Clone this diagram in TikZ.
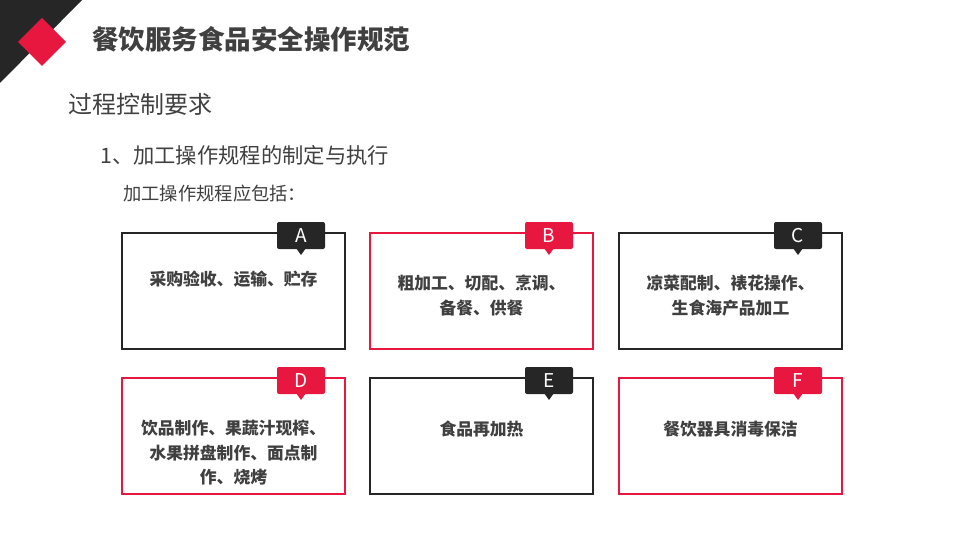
\documentclass[tikz,border=0pt]{standalone}
\usepackage{fontspec}
\setmainfont{Noto Sans CJK SC}
\definecolor{myred}{HTML}{E8173F}
\definecolor{mydark}{HTML}{262626}
\definecolor{mytext}{HTML}{404040}
\begin{document}
\begin{tikzpicture}[x=1pt,y=-1pt,
  card/.style={draw=#1,line width=1.3pt,fill=white},
  tagbox/.style={fill=#1,rounded corners=2pt},
  tagtxt/.style={text=white,font=\fontsize{19}{19}\selectfont},
  cardtxt/.style={text=mytext,font=\fontsize{16.8}{24.5}\selectfont\bfseries,align=center,anchor=north,inner sep=0pt}]
\useasboundingbox (0,0) rectangle (960,540);
\fill[white] (0,0) rectangle (960,540);
% corner
\fill[mydark] (0,0) -- (82,0) -- (0,83) -- cycle;
\fill[myred] (42,18) -- (66,42) -- (42,66) -- (18,42) -- cycle;
\node[anchor=west,text=mytext,font=\fontsize{26.5}{26.5}\selectfont\bfseries,inner sep=0pt] (title) at (92,39) {餐饮服务食品安全操作规范};
\node[anchor=west,text=mytext,font=\fontsize{24}{24}\selectfont,inner sep=0pt] (h1) at (68,104) {过程控制要求};
\node[anchor=west,text=mytext,font=\fontsize{21.3}{21.3}\selectfont,inner sep=0pt] (h2) at (100,155) {1、加工操作规程的制定与执行};
\node[anchor=west,text=mytext,font=\fontsize{18.3}{18.3}\selectfont,inner sep=0pt] (h3) at (123,194) {加工操作规程应包括：};
% cards
\foreach \n/\x/\y/\c in {A/122/233/mydark,B/370/233/myred,C/619/233/mydark,D/122/378/myred,E/370/378/mydark,F/619/378/myred}{
  \draw[card=\c] (\x,\y) rectangle ++(223,116);
  \fill[\c] (\x+174,\y+15) -- (\x+184,\y+15) -- (\x+179,\y+22) -- cycle;
  \fill[tagbox=\c] (\x+155,\y-11) rectangle ++(48,27);
  \node[tagtxt] (tag\n) at (\x+179,\y+3) {\n};
}
\node[cardtxt] (tA) at (233.5,271) {采购验收、运输、贮存};
\node[cardtxt] (tB) at (481.5,275) {粗加工、切配、烹调、\\备餐、供餐};
\node[cardtxt] (tC) at (730.5,275) {凉菜配制、裱花操作、\\生食海产品加工};
\node[cardtxt] (tD) at (233.5,420) {饮品制作、果蔬汁现榨、\\水果拼盘制作、面点制\\作、烧烤};
\node[cardtxt] (tE) at (481.5,421) {食品再加热};
\node[cardtxt] (tF) at (730.5,421) {餐饮器具消毒保洁};
\end{tikzpicture}
\end{document}
